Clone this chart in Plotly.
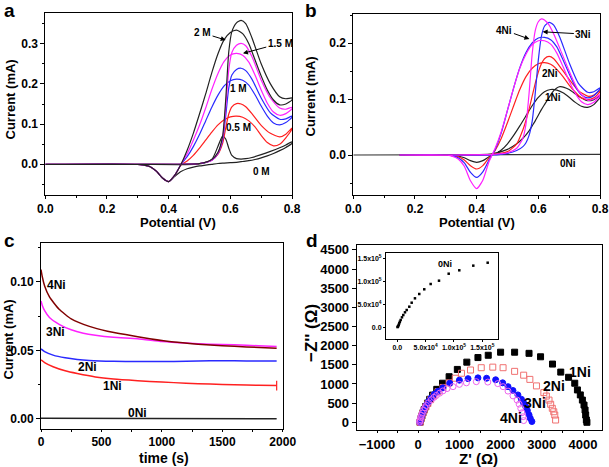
import plotly.graph_objects as go

# ---------------- Panel a : CV at different methanol concentrations ----------------
A_FWD_V = [0.0, 0.30, 0.50, 0.54, 0.56, 0.575, 0.585, 0.595, 0.605, 0.62, 0.635, 0.65, 0.67, 0.70, 0.73, 0.76, 0.78, 0.80]
A_REV_V = [0.80, 0.78, 0.76, 0.74, 0.72, 0.70, 0.68, 0.66, 0.64, 0.62, 0.60, 0.58, 0.56, 0.54, 0.52, 0.50,
           0.48, 0.46, 0.44, 0.42, 0.40, 0.38, 0.36, 0.34, 0.32, 0.30, 0.0]

A_0M_FWD = [0, 0, 0.001, 0.012, 0.045, 0.070, 0.063, 0.040, 0.022, 0.014, 0.013, 0.014, 0.017, 0.024, 0.032, 0.041, 0.048, 0.056]
A_0M_REV = [0.052, 0.042, 0.034, 0.027, 0.021, 0.016, 0.012, 0.009, 0.007, 0.005, 0.004, 0.003, 0.002, 0.0, -0.002, -0.004,
            -0.007, -0.011, -0.018, -0.030, -0.043, -0.034, -0.017, -0.006, -0.002, 0.0, 0.0]
A_05M_FWD = [0, 0, 0.002, 0.010, 0.025, 0.052, 0.090, 0.125, 0.143, 0.151, 0.150, 0.143, 0.126, 0.097, 0.077, 0.068, 0.075, 0.090]
A_05M_REV = [0.088, 0.066, 0.050, 0.046, 0.054, 0.072, 0.093, 0.108, 0.117, 0.120, 0.118, 0.111, 0.098, 0.080, 0.060, 0.040,
             0.022, 0.008, -0.002, -0.027, -0.043, -0.034, -0.017, -0.006, -0.002, 0.0, 0.0]
A_1M_FWD = [0, 0, 0.002, 0.010, 0.027, 0.060, 0.120, 0.190, 0.222, 0.236, 0.239, 0.233, 0.212, 0.165, 0.128, 0.112, 0.113, 0.120]
A_1M_REV = [0.117, 0.104, 0.098, 0.103, 0.120, 0.145, 0.173, 0.197, 0.209, 0.212, 0.208, 0.195, 0.172, 0.142, 0.108, 0.074,
            0.044, 0.019, 0.0, -0.027, -0.043, -0.034, -0.017, -0.006, -0.002, 0.0, 0.0]
A_15M_FWD = [0, 0, 0.002, 0.010, 0.028, 0.065, 0.140, 0.235, 0.278, 0.296, 0.301, 0.295, 0.268, 0.210, 0.165, 0.140, 0.137, 0.142]
A_15M_REV = [0.138, 0.126, 0.122, 0.130, 0.152, 0.185, 0.222, 0.254, 0.271, 0.276, 0.272, 0.256, 0.226, 0.186, 0.140, 0.097,
             0.060, 0.026, 0.0, -0.027, -0.043, -0.034, -0.017, -0.006, -0.002, 0.0, 0.0]
A_2M_FWD = [0, 0, 0.002, 0.012, 0.030, 0.070, 0.160, 0.280, 0.330, 0.352, 0.358, 0.350, 0.315, 0.250, 0.200, 0.168, 0.163, 0.165]
A_2M_REV = [0.160, 0.150, 0.148, 0.160, 0.185, 0.220, 0.260, 0.300, 0.325, 0.334, 0.328, 0.310, 0.275, 0.228, 0.175, 0.125,
            0.077, 0.035, 0.0, -0.027, -0.043, -0.034, -0.017, -0.006, -0.002, 0.0, 0.0]

# ---------------- Panel b : CV of 0Ni..4Ni ----------------
B_FWD_V = [0.15, 0.30, 0.45, 0.50, 0.53, 0.55, 0.56, 0.57, 0.58, 0.59, 0.60, 0.61, 0.62, 0.635, 0.65, 0.67, 0.70, 0.73, 0.76, 0.78, 0.80]
B_REV_V = [0.80, 0.78, 0.76, 0.74, 0.72, 0.70, 0.68, 0.66, 0.64, 0.62, 0.60, 0.58, 0.56, 0.54, 0.52, 0.50, 0.48, 0.46,
           0.45, 0.44, 0.42, 0.40, 0.38, 0.36, 0.34, 0.32, 0.30, 0.15]

B_1NI_FWD = [0, 0, 0.002, 0.010, 0.020, 0.030, 0.036, 0.043, 0.052, 0.061, 0.071, 0.081, 0.090, 0.103, 0.115, 0.122, 0.117, 0.105, 0.097, 0.099, 0.106]
B_1NI_REV = [0.103, 0.090, 0.085, 0.087, 0.094, 0.103, 0.111, 0.116, 0.117, 0.113, 0.103, 0.088, 0.070, 0.052, 0.035, 0.020, 0.009, 0.002,
             0.0, -0.003, -0.010, -0.013, -0.010, -0.005, -0.002, 0.0, 0.0, 0.0]
B_2NI_FWD = [0, 0, 0.001, 0.006, 0.020, 0.045, 0.062, 0.082, 0.105, 0.128, 0.148, 0.163, 0.172, 0.176, 0.172, 0.158, 0.135, 0.115, 0.105, 0.107, 0.115]
B_2NI_REV = [0.113, 0.102, 0.099, 0.102, 0.112, 0.125, 0.140, 0.153, 0.162, 0.165, 0.163, 0.155, 0.140, 0.117, 0.088, 0.058, 0.030, 0.008,
             0.0, -0.005, -0.019, -0.025, -0.019, -0.009, -0.003, -0.001, 0.0, 0.0]
B_3NI_FWD = [0, 0, 0.0, 0.003, 0.008, 0.015, 0.022, 0.035, 0.060, 0.110, 0.170, 0.212, 0.230, 0.237, 0.232, 0.210, 0.165, 0.128, 0.112, 0.113, 0.120]
B_3NI_REV = [0.118, 0.106, 0.102, 0.107, 0.122, 0.145, 0.170, 0.193, 0.206, 0.210, 0.209, 0.200, 0.183, 0.156, 0.120, 0.080, 0.040, 0.010,
             0.0, -0.009, -0.030, -0.040, -0.031, -0.014, -0.005, -0.001, 0.0, 0.0]
B_4NI_FWD = [0, 0, 0.001, 0.004, 0.012, 0.030, 0.055, 0.110, 0.180, 0.222, 0.238, 0.243, 0.241, 0.232, 0.216, 0.190, 0.150, 0.115, 0.098, 0.100, 0.108]
B_4NI_REV = [0.106, 0.094, 0.090, 0.095, 0.110, 0.132, 0.158, 0.182, 0.198, 0.204, 0.204, 0.197, 0.180, 0.155, 0.120, 0.080, 0.042, 0.012,
             0.0, -0.012, -0.045, -0.060, -0.046, -0.020, -0.007, -0.002, 0.0, 0.0]
B_0NI_V = [0.0, 0.4, 0.8]
B_0NI_I = [0.0, 0.0, 0.001]

# ---------------- Panel c : chronoamperometry ----------------
C_4NI_T = [0, 10, 30, 70, 150, 250, 400, 550, 700, 900, 1100, 1300, 1500, 1700, 1950]
C_4NI_I = [0.109, 0.104, 0.097, 0.089, 0.080, 0.073, 0.0675, 0.064, 0.0615, 0.0585, 0.056, 0.0545, 0.0533, 0.0525, 0.0515]
C_3NI_T = [0, 10, 30, 70, 150, 250, 350, 450, 600, 800, 1000, 1200, 1400, 1600, 1800, 1950]
C_3NI_I = [0.086, 0.083, 0.079, 0.074, 0.069, 0.065, 0.0625, 0.061, 0.0595, 0.0585, 0.0565, 0.0553, 0.0545, 0.054, 0.0533, 0.0528]
C_2NI_T = [0, 30, 100, 200, 300, 400, 600, 800, 1000, 1200, 1400, 1600, 1800, 1950]
C_2NI_I = [0.051, 0.049, 0.0465, 0.0445, 0.0433, 0.0426, 0.042, 0.0418, 0.0418, 0.042, 0.0423, 0.0423, 0.0422, 0.0422]
C_1NI_T = [0, 30, 100, 200, 300, 450, 600, 800, 1000, 1200, 1400, 1600, 1800, 1950]
C_1NI_I = [0.043, 0.041, 0.038, 0.035, 0.033, 0.0305, 0.029, 0.0278, 0.0268, 0.026, 0.0253, 0.0248, 0.0244, 0.0242]
C_0NI_T = [0, 1950]
C_0NI_I = [0.0003, 0.0]

# ---------------- Panel d : Nyquist ----------------
D_1NI_RE = [45, 55, 70, 90, 115, 145, 180, 225, 280, 350, 450, 590, 750, 950, 1180, 1450, 1700, 2000, 2340, 2690, 2970,
            3260, 3460, 3650, 3800, 3865, 3935, 3985, 4025, 4050, 4065, 4082, 4095]
D_1NI_IM = [0, 40, 100, 170, 250, 330, 410, 500, 600, 710, 860, 1020, 1190, 1380, 1570, 1690, 1750, 1830, 1830, 1800, 1710,
            1520, 1310, 1175, 1020, 845, 715, 580, 450, 320, 190, 60, 0]
D_2NI_RE = [45, 55, 70, 90, 115, 145, 185, 235, 300, 380, 480, 600, 750, 900, 1050, 1270, 1530, 1810, 2060, 2340, 2560,
            2710, 2870, 3050, 3110, 3175, 3215, 3255, 3290, 3315, 3335]
D_2NI_IM = [0, 40, 100, 165, 240, 315, 400, 490, 590, 690, 800, 910, 1030, 1150, 1280, 1365, 1425, 1440, 1425, 1330, 1230,
            1120, 950, 775, 685, 580, 470, 365, 275, 190, 60]
D_3NI_RE = [40, 50, 62, 78, 100, 125, 160, 200, 250, 310, 390, 480, 600, 765, 1000, 1210, 1450, 1660, 1880, 2050, 2180,
            2300, 2420, 2505, 2560, 2610, 2650, 2690, 2720, 2760]
D_3NI_IM = [0, 40, 90, 150, 220, 290, 370, 450, 540, 630, 730, 810, 900, 1020, 1100, 1140, 1160, 1150, 1110, 1030, 930,
            830, 715, 600, 500, 410, 305, 195, 105, 20]
D_4NI_RE = [35, 40, 48, 60, 78, 100, 130, 165, 200, 250, 320, 380, 440, 520, 600, 700, 845, 1000, 1170, 1410, 1690, 1930,
            2060, 2180, 2300, 2400, 2450, 2490, 2520, 2545, 2560]
D_4NI_IM = [0, 30, 70, 120, 180, 240, 310, 380, 440, 510, 590, 650, 700, 760, 820, 880, 930, 990, 1030, 1060, 1050, 1010,
            930, 815, 690, 580, 475, 365, 250, 145, 45]
D_0NI_RE = [500, 1000, 1760, 2500, 3530, 4500, 6000, 8300, 10600, 13600, 16600, 21200, 25400, 31200, 38800, 47600, 58900,
            73600, 90700, 109400, 134100, 159500]
D_0NI_IM = [500, 1500, 3000, 5500, 8700, 12000, 15900, 21700, 26700, 32600, 37600, 44800, 53500, 63000, 72400, 82600, 94100,
            101300, 116500, 123900, 134000, 140400]

INSET_TICKVALS = [0, 50000, 100000, 150000]
INSET_TICKTEXT = ["0.0", "5.0x10<sup>4</sup>", "1.0x10<sup>5</sup>", "1.5x10<sup>5</sup>"]

BLACK = "#222222"
RED = "#ff2020"
BLUE = "#2a2aff"
MAGENTA = "#ff20ff"
MAROON = "#800000"
FONT = "Liberation Sans, Arial, sans-serif"

fig = go.Figure()


def loop(fv, fi, rv, ri):
    return list(fv) + list(rv), list(fi) + list(ri)


a_series = [(A_0M_FWD, A_0M_REV, BLACK), (A_05M_FWD, A_05M_REV, RED), (A_1M_FWD, A_1M_REV, BLUE),
            (A_15M_FWD, A_15M_REV, MAGENTA), (A_2M_FWD, A_2M_REV, BLACK)]
for fwd, rev, col in a_series:
    xs, ys = loop(A_FWD_V, fwd, A_REV_V, rev)
    fig.add_trace(go.Scatter(x=xs, y=ys, mode="lines", line=dict(color=col, width=1.2, shape="spline", smoothing=0.6),
                             xaxis="x", yaxis="y", showlegend=False))

fig.add_trace(go.Scatter(x=B_0NI_V, y=B_0NI_I, mode="lines", line=dict(color="#333333", width=1.2),
                         xaxis="x2", yaxis="y2", showlegend=False))
b_series = [(B_1NI_FWD, B_1NI_REV, BLACK), (B_2NI_FWD, B_2NI_REV, RED), (B_3NI_FWD, B_3NI_REV, BLUE),
            (B_4NI_FWD, B_4NI_REV, MAGENTA)]
for fwd, rev, col in b_series:
    xs, ys = loop(B_FWD_V, fwd, B_REV_V, rev)
    fig.add_trace(go.Scatter(x=xs, y=ys, mode="lines", line=dict(color=col, width=1.2, shape="spline", smoothing=0.6),
                             xaxis="x2", yaxis="y2", showlegend=False))

c_series = [(C_0NI_T, C_0NI_I, BLACK), (C_1NI_T, C_1NI_I, RED), (C_2NI_T, C_2NI_I, BLUE),
            (C_3NI_T, C_3NI_I, MAGENTA), (C_4NI_T, C_4NI_I, MAROON)]
for t, i, col in c_series:
    fig.add_trace(go.Scatter(x=t, y=i, mode="lines", line=dict(color=col, width=1.5, shape="spline", smoothing=0.5),
                             xaxis="x3", yaxis="y3", showlegend=False))
fig.add_trace(go.Scatter(x=C_1NI_T[-1:], y=C_1NI_I[-1:], mode="markers",
                         marker=dict(symbol="line-ns-open", size=7, color=RED, line=dict(width=1.2, color=RED)),
                         xaxis="x3", yaxis="y3", showlegend=False))

d_series = [(D_1NI_RE, D_1NI_IM, "square", "black", "black"),
            (D_2NI_RE, D_2NI_IM, "square-open", "#f07070", "#f07070"),
            (D_3NI_RE, D_3NI_IM, "circle", "#1010ff", "#1010ff"),
            (D_4NI_RE, D_4NI_IM, "circle-open", "#ee66ee", "#ee66ee")]
for re_, im_, sym, col, lc in d_series:
    fig.add_trace(go.Scatter(x=re_, y=im_, mode="markers",
                             marker=dict(symbol=sym, size=6, color=col, line=dict(color=lc, width=1)),
                             xaxis="x4", yaxis="y4", showlegend=False))
fig.add_trace(go.Scatter(x=D_0NI_RE, y=D_0NI_IM, mode="markers", marker=dict(symbol="square", size=2.5, color="black"),
                         xaxis="x5", yaxis="y5", showlegend=False))

TICKFONT = dict(family=FONT, size=12, color="black", weight="bold")


def ax(domain, rng, anchor, **kw):
    d = dict(domain=domain, range=rng, anchor=anchor, showline=True, linecolor="black", linewidth=1, mirror=True,
             showgrid=False, zeroline=False, ticks="outside", ticklen=4, tickwidth=1, tickcolor="black",
             tickfont=TICKFONT, automargin=False, tickangle=0)
    d.update(kw)
    return d


W, H = 609, 467


def px(x0, x1):
    return [x0 / W, x1 / W]


def py(y_top, y_bot):
    return [1 - y_bot / H, 1 - y_top / H]


fig.update_layout(
    width=W, height=H, margin=dict(l=0, r=0, t=0, b=0), paper_bgcolor="white", plot_bgcolor="white",
    xaxis=ax(px(45.3, 292), [0, 0.8], "y", tickvals=[0, 0.2, 0.4, 0.6, 0.8], tickformat=".1f", ticklen=3,
             minor=dict(ticks="outside", ticklen=2, dtick=0.1, tickcolor="black")),
    yaxis=ax(py(13, 195), [-0.0764, 0.3764], "x", tickvals=[0, 0.1, 0.2, 0.3], tickformat=".1f",
             minor=dict(ticks="outside", ticklen=2, dtick=0.05, tickcolor="black")),
    xaxis2=ax(px(353.3, 600), [0, 0.8], "y2", tickvals=[0, 0.2, 0.4, 0.6, 0.8], tickformat=".1f", ticklen=3,
              minor=dict(ticks="outside", ticklen=2, dtick=0.1, tickcolor="black")),
    yaxis2=ax(py(14, 195), [-0.0714, 0.2518], "x2", tickvals=[0, 0.1, 0.2], tickformat=".1f",
              minor=dict(ticks="outside", ticklen=2, dtick=0.05, tickcolor="black")),
    xaxis3=ax(px(41, 282.7), [0, 2000], "y3", tickvals=[0, 500, 1000, 1500, 2000], ticklen=2,
              minor=dict(ticks="outside", ticklen=2, dtick=250, tickcolor="black")),
    yaxis3=ax(py(243.3, 429), [-0.0075, 0.1282], "x3", tickvals=[0, 0.05, 0.1], tickformat=".2f",
              minor=dict(ticks="outside", ticklen=2, dtick=0.025, tickcolor="black")),
    xaxis4=ax(px(356.7, 601.7), [-1493, 4454], "y4", tickvals=[-1000, 0, 1000, 2000, 3000, 4000], ticklen=2,
              tickfont=dict(family=FONT, size=13, color="black", weight="bold"),
              minor=dict(ticks="outside", ticklen=2, dtick=500, tickcolor="black")),
    yaxis4=ax(py(245, 430), [-201, 4628], "x4", tickvals=list(range(0, 4501, 500)),
              tickfont=dict(family=FONT, size=13, color="black", weight="bold")),
    xaxis5=ax(px(386, 498), [-19900, 177700], "y5", tickvals=INSET_TICKVALS, ticktext=INSET_TICKTEXT, ticklen=2,
              tickfont=dict(family=FONT, size=7, color="black", weight="bold")),
    yaxis5=ax(py(253, 339), [-25400, 161500], "x5", tickvals=INSET_TICKVALS, ticktext=INSET_TICKTEXT, ticklen=2,
              tickfont=dict(family=FONT, size=7, color="black", weight="bold")),
)


def title_ann(text, x, y, size=13, angle=0):
    return dict(text=text, x=x / W, y=1 - y / H, xref="paper", yref="paper", showarrow=False, textangle=angle,
                font=dict(family=FONT, size=size, color="black", weight="bold"), xanchor="center", yanchor="middle",
                borderpad=0)


anns = [
    title_ann("a", 9, 10, 19), title_ann("b", 311, 10, 19), title_ann("c", 9, 240, 19), title_ann("d", 312, 240, 19),
    title_ann("Current (mA)", 9.5, 100, 13, -90), title_ann("Potential (V)", 178, 222, 13),
    title_ann("Current (mA)", 309.5, 97, 13, -90), title_ann("Potential (V)", 477, 222, 13),
    title_ann("Current (mA)", 7.5, 340, 13, -90), title_ann("time (s)", 164, 458, 14),
    title_ann("\u2212Z'' (\u03a9)", 311, 333, 17, -90), title_ann("Z' (\u03a9)", 478, 458, 15),
]


def lab(text, x, y, xr, yr, size=11):
    return dict(text=text, x=x, y=y, xref=xr, yref=yr, showarrow=False,
                font=dict(family=FONT, size=size, color="black", weight="bold"))


def arrow(text, hx, hy, tx, ty, xr, yr, size=11):
    return dict(text=text, x=hx, y=hy, ax=tx, ay=ty, xref=xr, yref=yr, axref=xr, ayref=yr, showarrow=True,
                arrowhead=2, arrowsize=1, arrowwidth=1, arrowcolor="black",
                font=dict(family=FONT, size=size, color="black", weight="bold"))


anns += [
    arrow("2 M", 0.585, 0.309, 0.51, 0.327, "x", "y", 10),
    arrow("1.5 M", 0.641, 0.276, 0.762, 0.301, "x", "y", 10),
    lab("1 M", 0.628, 0.189, "x", "y", 10), lab("0.5 M", 0.625, 0.092, "x", "y", 10),
    lab("0 M", 0.701, -0.018, "x", "y", 10),
    arrow("4Ni", 0.571, 0.207, 0.49, 0.223, "x2", "y2", 10),
    arrow("3Ni", 0.614, 0.22, 0.746, 0.216, "x2", "y2", 10),
    lab("2Ni", 0.638, 0.146, "x2", "y2", 10), lab("1Ni", 0.649, 0.103, "x2", "y2", 10),
    lab("0Ni", 0.697, -0.015, "x2", "y2", 10),
    lab("4Ni", 130, 0.0976, "x3", "y3", 12), lab("3Ni", 121, 0.0635, "x3", "y3", 12),
    lab("2Ni", 383, 0.038, "x3", "y3", 12), lab("1Ni", 593, 0.024, "x3", "y3", 12),
    lab("0Ni", 800, 0.0042, "x3", "y3", 12),
    lab("1Ni", 3920, 1305, "x4", "y4", 14), lab("2Ni", 3289, 955, "x4", "y4", 14),
    lab("3Ni", 2827, 496, "x4", "y4", 14), lab("4Ni", 2243, 104, "x4", "y4", 14),
    lab("0Ni", 84200, 137000, "x5", "y5", 9),
]
fig.update_layout(annotations=anns)

fig.write_html("out.html", config={"displayModeBar": False},
               post_script="document.body.style.margin='0';document.body.style.padding='0';")
